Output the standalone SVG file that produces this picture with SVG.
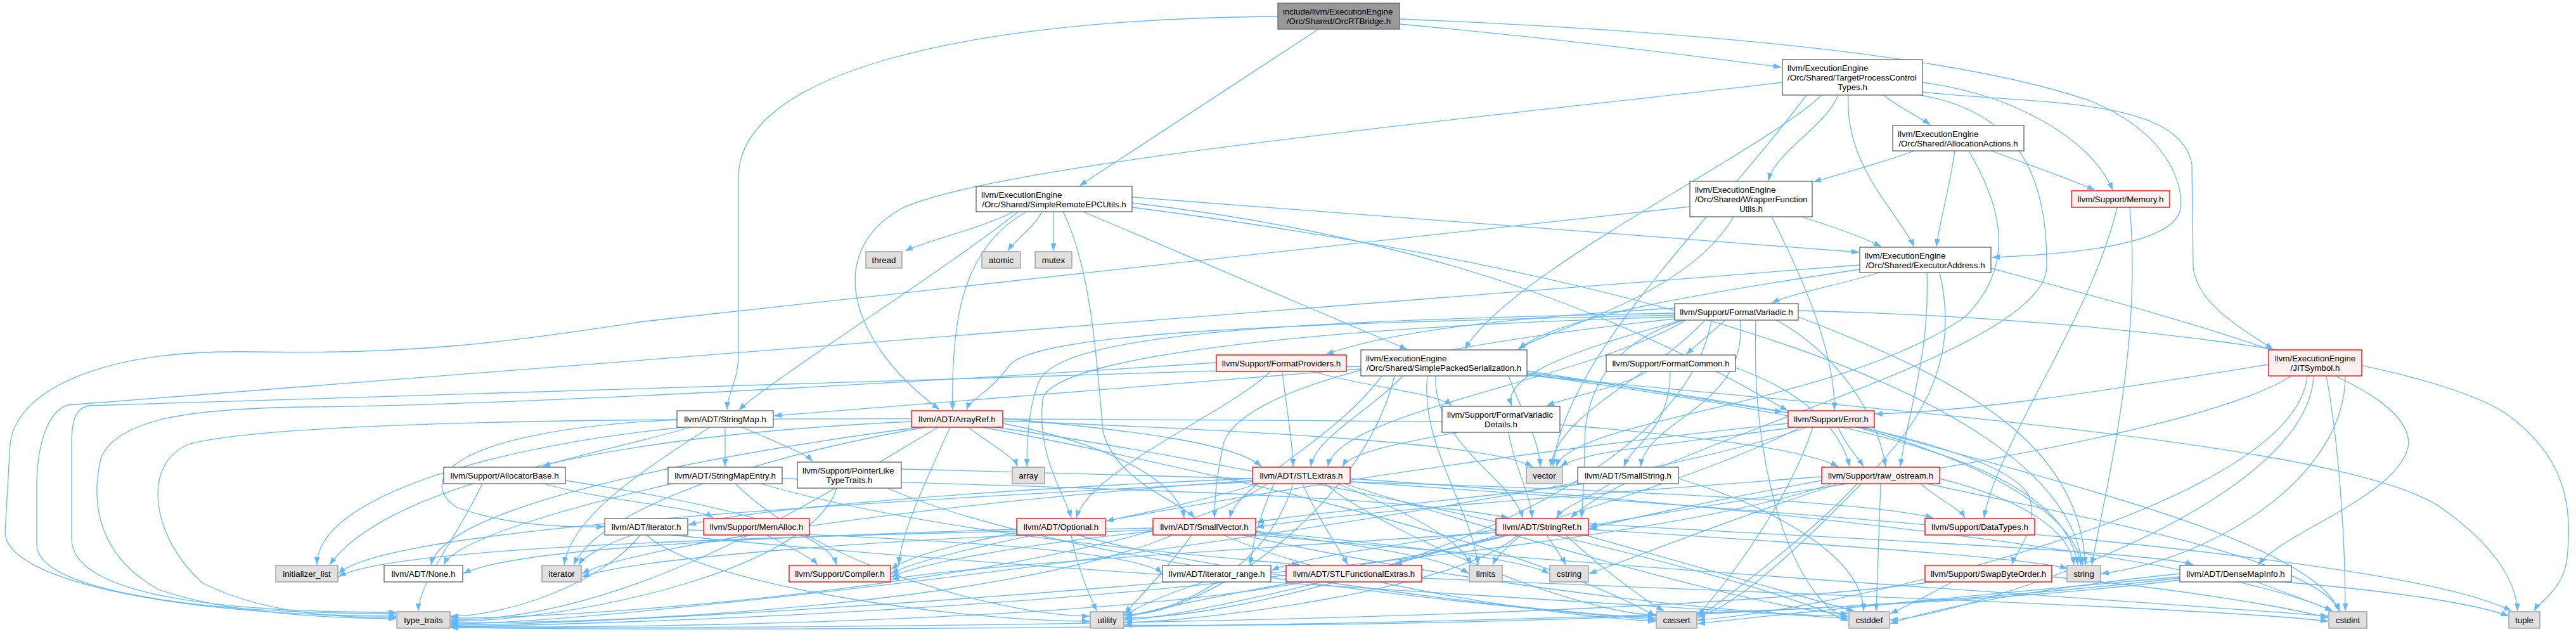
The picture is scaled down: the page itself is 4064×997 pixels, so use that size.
<svg xmlns="http://www.w3.org/2000/svg" width="4064" height="997" viewBox="0 0 4064 997">
<defs>
<marker id="ah" viewBox="0 0 12 9" refX="12" refY="4.5" markerWidth="12" markerHeight="9" orient="auto" markerUnits="userSpaceOnUse"><path d="M0,0L12,4.5L0,9z" fill="#63b8ff"/></marker>
</defs>
<style>
text{font-family:"Liberation Sans",Arial,Helvetica,sans-serif;font-size:13.33px;fill:#000}
.m{text-anchor:middle}
rect{stroke-width:1.33}
.w rect{fill:#fff;stroke:#666}
.g rect{fill:#e0e0e0;stroke:#999}
.r rect{fill:#fff0f0;stroke:#f00}
.root rect{fill:#999;stroke:#666}
#edges path{fill:none;stroke:#63b8ff;stroke-width:1.3;marker-end:url(#ah)}
</style>
<rect width="4064" height="997" fill="#fff"/>
<g id="edges">
<path d="M2080,46 L1703,293"/>
<path d="M2208,38 C2450,60 2650,85 2810,106"/>
<path d="M2016,26 C1500,30 1165,120 1165,280 L1165,560 C1165,600 1148,620 1147,646"/>
<path d="M2208,30 C2700,50 3100,90 3300,160 C3420,210 3445,290 3440,330 C3430,380 3300,400 3143,406"/>
<path d="M2812,130 C2300,190 1560,260 1420,330 C1300,400 1340,540 1482,646"/>
<path d="M2874,150 C2780,240 2380,430 2311,551"/>
<path d="M2900,150 C2880,200 2800,240 2790,285"/>
<path d="M3033,145 C3200,165 3440,150 3458,260 L3460,420 C3465,480 3540,520 3586,551"/>
<path d="M2972,150 C2995,170 3030,185 3045,197"/>
<path d="M2916,150 C2910,260 2990,330 3020,389"/>
<path d="M3033,130 C3180,150 3300,220 3333,300"/>
<path d="M3030,150 C3200,180 3230,300 3229,420 C3228,560 2600,700 2478,817"/>
<path d="M2850,150 C2700,350 2470,560 2450,736"/>
<path d="M3020,238 C2960,260 2900,275 2861,287"/>
<path d="M3084,238 C3075,300 3060,350 3055,389"/>
<path d="M3106,238 C3160,330 3180,420 3100,500 C2900,640 2480,660 2455,736"/>
<path d="M3142,238 C3200,260 3260,280 3305,300"/>
<path d="M2735,342 C2660,470 2440,520 2395,551"/>
<path d="M2795,342 C2850,450 2895,560 2894,647"/>
<path d="M2842,342 C2900,360 2940,375 2968,389"/>
<path d="M2666,326 L1016,507 C800,540 650,560 400,555 C150,550 25,620 16,700 L8,840 C10,920 300,972 625,972"/>
<path d="M1599,334 C1550,360 1460,380 1428,396"/>
<path d="M1606,334 C1500,420 1230,590 1165,647"/>
<path d="M1619,334 C1520,390 1500,500 1503,647"/>
<path d="M1644,334 C1630,360 1600,380 1590,396"/>
<path d="M1662,334 L1662,396"/>
<path d="M1677,334 C1720,420 1730,560 1740,680 C1760,760 1860,790 1885,817"/>
<path d="M1709,334 L2220,551"/>
<path d="M1786,311 C2200,340 2600,370 2933,398"/>
<path d="M1786,320 C2300,380 2600,520 2820,648"/>
<path d="M1786,327 C2500,420 3250,600 3285,891"/>
<path d="M2934,425 C2700,460 2450,500 2397,551"/>
<path d="M2965,430 C2900,450 2830,462 2795,478"/>
<path d="M3141,423 C3500,520 3800,600 3800,700 C3790,780 3600,840 3563,891"/>
<path d="M3040,430 C3045,560 3010,650 2998,736"/>
<path d="M3060,430 C3100,600 3000,700 2900,800 C2800,900 2720,965 2678,972"/>
<path d="M2934,418 L107,639 C85,645 60,680 58,760 L58,860 C60,930 300,968 625,968"/>
<path d="M2642,497 C2100,510 1620,520 1590,580 C1560,620 1530,630 1525,647"/>
<path d="M2642,500 C2100,515 1660,560 1645,630 C1635,720 1680,780 1690,817"/>
<path d="M2660,505 C2500,600 2110,650 2095,736"/>
<path d="M2745,505 C2760,640 2600,660 2588,736"/>
<path d="M2642,503 C2100,560 1950,640 1930,700 C1918,760 1916,790 1916,817"/>
<path d="M2657,505 C2540,540 2500,620 2500,700 C2500,760 2497,790 2495,817"/>
<path d="M2722,505 L2660,559"/>
<path d="M2642,486 C2400,500 2200,520 2092,559"/>
<path d="M2655,505 C2450,560 2370,600 2385,640"/>
<path d="M2803,505 C2900,560 2960,650 2975,736"/>
<path d="M2642,494 C2100,505 1680,520 1640,600 C1622,640 1620,700 1620,736"/>
<path d="M2770,505 C2760,800 2860,972 2916,972"/>
<path d="M2837,500 C3100,600 3280,700 3290,891"/>
<path d="M2837,490 C3300,500 3800,560 3950,650 C4050,720 4058,800 4050,880 C4045,930 4005,950 3998,964"/>
<path d="M2700,505 C2650,800 2000,975 1774,975"/>
<path d="M2690,505 C2600,600 2460,650 2446,736"/>
<path d="M3579,575 C3300,620 3100,650 2958,653"/>
<path d="M3615,593 C3450,700 2700,790 2507,830"/>
<path d="M3640,593 C3620,800 2900,962 2678,978"/>
<path d="M3650,593 C3640,800 3100,970 2982,978"/>
<path d="M3670,593 C3690,700 3700,850 3700,964"/>
<path d="M3700,593 C3700,750 3500,880 3315,905"/>
<path d="M2071,586 C2150,610 2270,620 2290,640"/>
<path d="M2004,586 C1940,650 1720,740 1698,817"/>
<path d="M2023,586 C2030,650 2040,700 2040,736"/>
<path d="M1919,572 C1500,600 800,640 480,642 C300,645 190,660 160,720 C140,800 160,880 250,930 C350,965 500,975 625,976"/>
<path d="M2213,593 C2160,650 2075,690 2068,736"/>
<path d="M2180,593 C2100,700 1955,760 1940,817"/>
<path d="M2147,582 C1800,610 1400,640 1221,656"/>
<path d="M2265,593 C2260,700 2390,760 2402,817"/>
<path d="M2409,585 L2812,650"/>
<path d="M2409,588 C2800,640 3150,700 3200,780 C3220,830 3180,870 3174,891"/>
<path d="M2252,593 C2240,700 2320,800 2332,891"/>
<path d="M2409,590 C2900,660 3250,720 3278,891"/>
<path d="M2409,592 C3000,650 3700,700 3850,800 C3950,870 3970,930 3972,964"/>
<path d="M2147,578 L139,640 C120,645 113,660 113,700 L113,850 C113,930 300,966 625,966"/>
<path d="M2200,593 C2150,800 1900,972 1774,970"/>
<path d="M2380,593 C2400,650 2428,690 2430,736"/>
<path d="M2599,586 C2560,610 2480,625 2440,640"/>
<path d="M2635,586 C2635,680 2575,700 2562,736"/>
<path d="M2738,580 C2850,620 2905,680 2918,736"/>
<path d="M1144,674 L1144,736"/>
<path d="M1171,674 C1230,700 1270,715 1282,728"/>
<path d="M1090,674 C1000,700 900,720 856,736"/>
<path d="M1068,662 C700,680 660,760 720,800 C800,830 900,832 953,831"/>
<path d="M1080,674 C800,700 500,780 500,891"/>
<path d="M1120,674 C1000,750 900,820 890,891"/>
<path d="M1450,674 C1100,720 700,800 680,891"/>
<path d="M1582,668 C1750,700 1860,760 1868,817"/>
<path d="M1582,660 C1800,680 1950,700 1990,736"/>
<path d="M1499,674 C1450,780 1420,850 1418,891"/>
<path d="M1528,674 C1560,700 1600,720 1605,736"/>
<path d="M1550,674 C1800,720 2400,850 2612,972"/>
<path d="M1570,674 C1900,720 2700,880 2916,980"/>
<path d="M1438,665 C900,690 600,780 520,891"/>
<path d="M1460,674 C1200,720 950,800 905,891"/>
<path d="M1480,674 C1300,780 1000,978 711,978"/>
<path d="M1582,664 C2000,680 2350,700 2418,736"/>
<path d="M2380,682 C2390,740 2415,780 2417,817"/>
<path d="M2300,682 C2200,700 2130,715 2118,736"/>
<path d="M2461,670 C2700,690 2850,710 2900,736"/>
<path d="M2275,665 C1500,660 500,650 300,700 C220,730 240,850 320,920 C420,970 550,975 625,974"/>
<path d="M2821,668 C2300,720 1500,850 1406,905"/>
<path d="M2900,674 C2910,700 2930,720 2940,736"/>
<path d="M2860,674 C2820,800 2700,950 2678,970"/>
<path d="M2940,674 C3200,750 3650,850 3690,964"/>
<path d="M2930,674 C3100,720 3270,800 3283,891"/>
<path d="M2850,674 C2500,800 1000,985 711,984"/>
<path d="M2840,674 C2600,800 1900,975 1774,978"/>
<path d="M2830,674 C2650,700 2500,710 2462,736"/>
<path d="M761,763 C720,850 660,920 660,964"/>
<path d="M892,758 C1100,790 1300,830 1320,891"/>
<path d="M858,763 C950,790 1100,800 1125,817"/>
<path d="M1060,763 C900,800 720,850 700,891"/>
<path d="M1234,755 C1700,770 2200,780 2380,817"/>
<path d="M1200,763 C1500,850 1950,880 2050,891"/>
<path d="M1160,763 C1300,900 1600,972 1719,972"/>
<path d="M1422,740 C2200,760 2900,780 3050,817"/>
<path d="M1400,770 C1700,900 2400,960 2612,978"/>
<path d="M1320,770 C1280,900 900,980 711,980"/>
<path d="M1985,763 C1900,790 1800,810 1745,822"/>
<path d="M2055,763 C2080,820 2110,860 2126,891"/>
<path d="M1976,755 C1600,770 1200,800 1086,828"/>
<path d="M2010,763 C1980,830 1975,870 1972,891"/>
<path d="M2090,763 C2200,850 2500,970 2612,970"/>
<path d="M2120,763 C2400,850 2800,968 2916,968"/>
<path d="M2130,755 C2800,800 3500,880 3680,964"/>
<path d="M1976,760 C1200,800 600,840 534,905"/>
<path d="M1976,758 C1500,790 1000,860 918,905"/>
<path d="M2110,763 C2250,820 2310,860 2320,891"/>
<path d="M2130,760 C3000,820 3800,880 3962,964"/>
<path d="M2000,763 C1800,900 1000,975 711,975"/>
<path d="M2040,763 C2000,900 1850,970 1774,970"/>
<path d="M2500,763 C2300,790 2050,810 1982,824"/>
<path d="M2540,763 C2500,790 2465,800 2456,817"/>
<path d="M2648,755 C2800,800 2940,880 2940,964"/>
<path d="M2874,752 C2500,780 2100,810 1982,832"/>
<path d="M2874,758 C2700,790 2560,820 2507,834"/>
<path d="M3030,763 C3060,790 3090,800 3100,817"/>
<path d="M2930,763 C2850,850 2700,960 2678,975"/>
<path d="M2967,763 L2960,964"/>
<path d="M3040,763 C3300,820 3650,880 3692,964"/>
<path d="M2900,763 C2700,830 2550,890 2507,905"/>
<path d="M3060,755 C3200,790 3265,840 3272,891"/>
<path d="M2890,763 C2500,900 1000,985 711,986"/>
<path d="M1085,836 C1500,850 1800,870 1833,905"/>
<path d="M1060,844 C1600,900 2700,960 2916,976"/>
<path d="M998,844 C950,860 920,880 913,891"/>
<path d="M1010,844 C950,920 800,972 711,972"/>
<path d="M1020,844 C1100,920 1500,980 1719,980"/>
<path d="M1210,844 C1240,860 1280,880 1290,891"/>
<path d="M1604,835 C1100,850 800,870 731,905"/>
<path d="M1604,840 C1500,860 1430,880 1406,898"/>
<path d="M1700,844 C1900,900 2400,965 2612,975"/>
<path d="M1690,844 C1700,900 1720,940 1730,964"/>
<path d="M1819,838 C1600,860 1450,890 1406,910"/>
<path d="M1930,844 C2100,920 2450,972 2612,980"/>
<path d="M1960,844 C2300,920 2750,972 2916,972"/>
<path d="M1981,838 C2200,860 2400,880 2444,905"/>
<path d="M1819,833 C1000,850 600,870 534,910"/>
<path d="M1819,836 C1400,850 1000,880 918,910"/>
<path d="M1981,840 C2150,860 2280,880 2317,905"/>
<path d="M1850,844 C1600,950 1000,985 711,982"/>
<path d="M1880,844 C1840,900 1790,950 1774,968"/>
<path d="M1981,844 C2600,900 3400,950 3673,972"/>
<path d="M2506,826 C2900,850 3400,870 3460,891"/>
<path d="M2380,844 C2300,860 2230,880 2200,891"/>
<path d="M2360,836 C2200,860 2050,880 2006,900"/>
<path d="M2360,840 C1900,870 1500,895 1406,914"/>
<path d="M2470,844 C2530,900 2600,950 2625,964"/>
<path d="M2500,844 C2700,900 2880,950 2925,964"/>
<path d="M2440,844 C2450,860 2465,880 2470,891"/>
<path d="M2400,844 C2380,860 2360,880 2355,891"/>
<path d="M2506,835 C2900,860 3200,880 3262,897"/>
<path d="M2380,844 C2000,950 1000,985 711,988"/>
<path d="M2395,844 C2300,930 1900,980 1774,982"/>
<path d="M3340,327 C3300,500 3150,700 3130,817"/>
<path d="M3360,327 C3380,550 3320,780 3300,891"/>
<path d="M3080,918 C3040,940 3000,960 2982,968"/>
<path d="M3237,910 C3450,930 3620,960 3673,975"/>
<path d="M3050,918 C2500,990 1000,992 711,990"/>
<path d="M3439,910 C3100,940 2800,970 2678,984"/>
<path d="M3439,905 C3200,930 3050,960 2982,984"/>
<path d="M3560,918 C3620,940 3660,955 3680,964"/>
<path d="M3600,918 C3750,930 3900,950 3958,972"/>
<path d="M3439,915 C2800,995 1200,996 711,990"/>
<path d="M3439,912 C2800,985 2000,988 1774,986"/>
<path d="M1900,918 C1830,940 1790,960 1774,972"/>
<path d="M2243,912 C2900,940 3500,960 3673,980"/>
<path d="M2060,918 C1700,985 900,992 711,988"/>
<path d="M2060,915 C1950,935 1820,960 1774,975"/>
</g>
<g id="n_root" class="root"><rect x="2016" y="5" width="192" height="41"/><text x="2024" y="22.5">include/llvm/ExecutionEngine</text><text class="m" x="2112" y="37.5">/Orc/Shared/OrcRTBridge.h</text></g>
<g id="n_tpct" class="w"><rect x="2812" y="94" width="221" height="56"/><text x="2820" y="111.5">llvm/ExecutionEngine</text><text x="2820" y="126.5">/Orc/Shared/TargetProcessControl</text><text class="m" x="2922.5" y="141.5">Types.h</text></g>
<g id="n_alloc" class="w"><rect x="2986" y="198" width="207" height="40"/><text x="2994" y="215.5">llvm/ExecutionEngine</text><text class="m" x="3089.5" y="230.5">/Orc/Shared/AllocationActions.h</text></g>
<g id="n_srepc" class="w"><rect x="1540" y="294" width="246" height="40"/><text x="1548" y="311.5">llvm/ExecutionEngine</text><text class="m" x="1663" y="326.5">/Orc/Shared/SimpleRemoteEPCUtils.h</text></g>
<g id="n_wfu" class="w"><rect x="2666" y="286" width="193" height="56"/><text x="2674" y="303.5">llvm/ExecutionEngine</text><text x="2674" y="318.5">/Orc/Shared/WrapperFunction</text><text class="m" x="2762.5" y="333.5">Utils.h</text></g>
<g id="n_memory" class="r"><rect x="3268" y="301" width="155" height="26"/><text class="m" x="3345.5" y="318.5">llvm/Support/Memory.h</text></g>
<g id="n_thread" class="g"><rect x="1366" y="397" width="57" height="26"/><text class="m" x="1394.5" y="414.5">thread</text></g>
<g id="n_atomic" class="g"><rect x="1549" y="397" width="61" height="26"/><text class="m" x="1579.5" y="414.5">atomic</text></g>
<g id="n_mutex" class="g"><rect x="1633" y="397" width="58" height="26"/><text class="m" x="1662" y="414.5">mutex</text></g>
<g id="n_execaddr" class="w"><rect x="2934" y="390" width="207" height="40"/><text x="2942" y="407.5">llvm/ExecutionEngine</text><text class="m" x="3037.5" y="422.5">/Orc/Shared/ExecutorAddress.h</text></g>
<g id="n_fmtvar" class="w"><rect x="2642" y="479" width="195" height="26"/><text class="m" x="2739.5" y="496.5">llvm/Support/FormatVariadic.h</text></g>
<g id="n_jit" class="r"><rect x="3579" y="552" width="147" height="41"/><text class="m" x="3652.5" y="569.5">llvm/ExecutionEngine</text><text class="m" x="3652.5" y="584.5">/JITSymbol.h</text></g>
<g id="n_fmtprov" class="r"><rect x="1919" y="560" width="205" height="26"/><text class="m" x="2021.5" y="577.5">llvm/Support/FormatProviders.h</text></g>
<g id="n_sps" class="w"><rect x="2147" y="552" width="262" height="41"/><text x="2155" y="569.5">llvm/ExecutionEngine</text><text class="m" x="2278" y="584.5">/Orc/Shared/SimplePackedSerialization.h</text></g>
<g id="n_fmtcommon" class="w"><rect x="2534" y="560" width="204" height="26"/><text class="m" x="2636" y="577.5">llvm/Support/FormatCommon.h</text></g>
<g id="n_stringmap" class="w"><rect x="1068" y="648" width="152" height="26"/><text class="m" x="1144" y="665.5">llvm/ADT/StringMap.h</text></g>
<g id="n_arrayref" class="r"><rect x="1438" y="648" width="144" height="26"/><text class="m" x="1510" y="665.5">llvm/ADT/ArrayRef.h</text></g>
<g id="n_fvd" class="w"><rect x="2275" y="641" width="186" height="41"/><text x="2283" y="658.5">llvm/Support/FormatVariadic</text><text class="m" x="2368" y="673.5">Details.h</text></g>
<g id="n_error" class="r"><rect x="2821" y="648" width="136" height="26"/><text class="m" x="2889" y="665.5">llvm/Support/Error.h</text></g>
<g id="n_vector" class="g"><rect x="2408" y="737" width="57" height="26"/><text class="m" x="2436.5" y="754.5">vector</text></g>
<g id="n_allocbase" class="w"><rect x="700" y="737" width="192" height="26"/><text class="m" x="796" y="754.5">llvm/Support/AllocatorBase.h</text></g>
<g id="n_smentry" class="w"><rect x="1054" y="737" width="180" height="26"/><text class="m" x="1144" y="754.5">llvm/ADT/StringMapEntry.h</text></g>
<g id="n_plt" class="w"><rect x="1258" y="729" width="164" height="41"/><text x="1266" y="746.5">llvm/Support/PointerLike</text><text class="m" x="1340" y="761.5">TypeTraits.h</text></g>
<g id="n_array" class="g"><rect x="1597" y="737" width="51" height="26"/><text class="m" x="1622.5" y="754.5">array</text></g>
<g id="n_stlextras" class="r"><rect x="1976" y="737" width="154" height="26"/><text class="m" x="2053" y="754.5">llvm/ADT/STLExtras.h</text></g>
<g id="n_smallstring" class="w"><rect x="2489" y="737" width="159" height="26"/><text class="m" x="2568.5" y="754.5">llvm/ADT/SmallString.h</text></g>
<g id="n_rawos" class="r"><rect x="2874" y="737" width="186" height="26"/><text class="m" x="2967" y="754.5">llvm/Support/raw_ostream.h</text></g>
<g id="n_iterh" class="w"><rect x="954" y="818" width="131" height="26"/><text class="m" x="1019.5" y="835.5">llvm/ADT/iterator.h</text></g>
<g id="n_memalloc" class="r"><rect x="1110" y="818" width="167" height="26"/><text class="m" x="1193.5" y="835.5">llvm/Support/MemAlloc.h</text></g>
<g id="n_optional" class="r"><rect x="1604" y="818" width="140" height="26"/><text class="m" x="1674" y="835.5">llvm/ADT/Optional.h</text></g>
<g id="n_smallvec" class="r"><rect x="1819" y="818" width="162" height="26"/><text class="m" x="1900" y="835.5">llvm/ADT/SmallVector.h</text></g>
<g id="n_stringref" class="r"><rect x="2360" y="818" width="146" height="26"/><text class="m" x="2433" y="835.5">llvm/ADT/StringRef.h</text></g>
<g id="n_datatypes" class="r"><rect x="3037" y="818" width="173" height="26"/><text class="m" x="3123.5" y="835.5">llvm/Support/DataTypes.h</text></g>
<g id="n_initlist" class="g"><rect x="435" y="892" width="98" height="26"/><text class="m" x="484" y="909.5">initializer_list</text></g>
<g id="n_none" class="w"><rect x="606" y="892" width="124" height="26"/><text class="m" x="668" y="909.5">llvm/ADT/None.h</text></g>
<g id="n_iterator" class="g"><rect x="855" y="892" width="62" height="26"/><text class="m" x="886" y="909.5">iterator</text></g>
<g id="n_compiler" class="r"><rect x="1245" y="892" width="160" height="26"/><text class="m" x="1325" y="909.5">llvm/Support/Compiler.h</text></g>
<g id="n_iterrange" class="w"><rect x="1834" y="892" width="171" height="26"/><text class="m" x="1919.5" y="909.5">llvm/ADT/iterator_range.h</text></g>
<g id="n_stlfunc" class="r"><rect x="2029" y="892" width="214" height="26"/><text class="m" x="2136" y="909.5">llvm/ADT/STLFunctionalExtras.h</text></g>
<g id="n_limits" class="g"><rect x="2318" y="892" width="52" height="26"/><text class="m" x="2344" y="909.5">limits</text></g>
<g id="n_cstring" class="g"><rect x="2445" y="892" width="61" height="26"/><text class="m" x="2475.5" y="909.5">cstring</text></g>
<g id="n_string" class="g"><rect x="3261" y="892" width="53" height="26"/><text class="m" x="3287.5" y="909.5">string</text></g>
<g id="n_swap" class="r"><rect x="3037" y="892" width="200" height="26"/><text class="m" x="3137" y="909.5">llvm/Support/SwapByteOrder.h</text></g>
<g id="n_densemap" class="w"><rect x="3439" y="892" width="176" height="26"/><text class="m" x="3527" y="909.5">llvm/ADT/DenseMapInfo.h</text></g>
<g id="n_typetraits" class="g"><rect x="626" y="965" width="84" height="26"/><text class="m" x="668" y="982.5">type_traits</text></g>
<g id="n_utility" class="g"><rect x="1720" y="965" width="53" height="26"/><text class="m" x="1746.5" y="982.5">utility</text></g>
<g id="n_cassert" class="g"><rect x="2613" y="965" width="64" height="26"/><text class="m" x="2645" y="982.5">cassert</text></g>
<g id="n_cstddef" class="g"><rect x="2917" y="965" width="64" height="26"/><text class="m" x="2949" y="982.5">cstddef</text></g>
<g id="n_cstdint" class="g"><rect x="3674" y="965" width="60" height="26"/><text class="m" x="3704" y="982.5">cstdint</text></g>
<g id="n_tuple" class="g"><rect x="3958" y="965" width="49" height="26"/><text class="m" x="3982.5" y="982.5">tuple</text></g>
</svg>
